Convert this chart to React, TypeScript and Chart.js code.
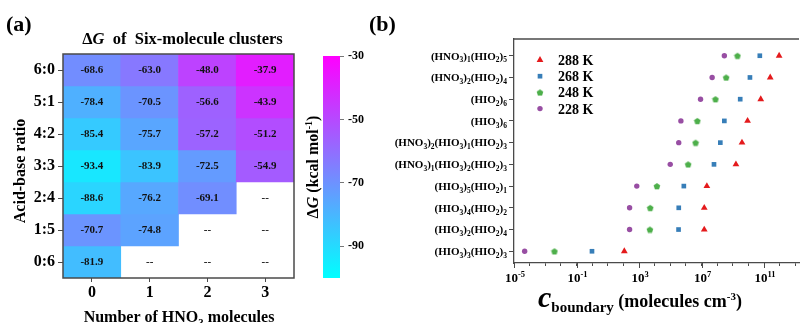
import React, { useEffect, useRef } from 'react';
import { Chart, registerables } from 'chart.js';

Chart.register(...registerables);

const SERIF = '"Liberation Serif", "Times New Roman", Times, serif';
const FRAME = '#4a4a4a';
const INK = '#000';

// ---------- (a) ΔG of six-molecule clusters ----------
// rows listed top to bottom (acid:base ratio), columns = number of HNO3 molecules
const ratioLabels = ['6:0', '5:1', '4:2', '3:3', '2:4', '1:5', '0:6'];
const hno3Labels = ['0', '1', '2', '3'];
const deltaG: (number | null)[][] = [
  [-68.6, -63.0, -48.0, -37.9],
  [-78.4, -70.5, -56.6, -43.9],
  [-85.4, -75.7, -57.2, -51.2],
  [-93.4, -83.9, -72.5, -54.9],
  [-88.6, -76.2, -69.1, null],
  [-70.7, -74.8, null, null],
  [-81.9, null, null, null],
];
const gMin = -100;
const gMax = -30;
const colorbarTicks = [-30, -50, -70, -90];

// ---------- (b) boundary concentrations ----------
// clusters listed bottom to top
const clusterLabels = [
  '(HIO₃)₃(HIO₂)₃',
  '(HIO₃)₂(HIO₂)₄',
  '(HIO₃)₄(HIO₂)₂',
  '(HIO₃)₅(HIO₂)₁',
  '(HNO₃)₁(HIO₃)₂(HIO₂)₃',
  '(HNO₃)₂(HIO₃)₁(HIO₂)₃',
  '(HIO₃)₆',
  '(HIO₂)₆',
  '(HNO₃)₂(HIO₂)₄',
  '(HNO₃)₁(HIO₂)₅',
];
const c288K = [1.15e2, 1.5e7, 1.5e7, 2.2e7, 1.6e9, 3.9e9, 8.9e9, 6.2e10, 2.5e11, 9.3e11];
const c268K = [0.98, 3.4e5, 3.5e5, 7.4e5, 6.3e7, 1.6e8, 2.9e8, 3.0e9, 1.26e10, 5.4e10];
const c248K = [3.9e-3, 5.0e3, 5.2e3, 1.4e4, 1.4e6, 4.2e6, 5.4e6, 7.8e7, 3.8e8, 2.0e9];
const c228K = [4.8e-5, 2.5e2, 2.5e2, 7.2e2, 1.0e5, 3.5e5, 4.8e5, 8.7e6, 4.8e7, 2.9e8];
const temperatureLabels = ['288 K', '268 K', '248 K', '228 K'];
const xMinorExponents = [-5, -4, -3, -2, -1, 0, 1, 2, 3, 4, 5, 6, 7, 8, 9, 10, 11, 12, 13];
const xMajorExponents = [-5, -1, 3, 7, 11];

// matplotlib-style "cool" colormap: cyan -> magenta
function coolColor(v: number): string {
  const t = Math.min(1, Math.max(0, (v - gMin) / (gMax - gMin)));
  return `rgb(${Math.round(255 * t)},${Math.round(255 * (1 - t))},255)`;
}

// ---------- rich text helpers ----------
type Part = { text: string; font: string; dy: number };
const SUB_CHARS = '₀₁₂₃₄₅₆₇₈₉';

function richParts(s: string, size: number, weight = 'bold'): Part[] {
  const parts: Part[] = [];
  const small = Math.round(size * 0.68 * 10) / 10;
  for (const ch of Array.from(s)) {
    const si = SUB_CHARS.indexOf(ch);
    const isSub = si >= 0;
    const text = isSub ? String(si) : ch;
    const font = `${weight} ${isSub ? small : size}px ${SERIF}`;
    const dy = isSub ? size * 0.27 : 0;
    const last = parts[parts.length - 1];
    if (last && last.font === font && last.dy === dy) last.text += text;
    else parts.push({ text, font, dy });
  }
  return parts;
}

function drawParts(
  ctx: CanvasRenderingContext2D,
  parts: Part[],
  x: number,
  y: number,
  align: 'left' | 'right' | 'center'
) {
  const widths = parts.map((p) => {
    ctx.font = p.font;
    return ctx.measureText(p.text).width;
  });
  const total = widths.reduce((a, b) => a + b, 0);
  let cx = align === 'left' ? x : align === 'right' ? x - total : x - total / 2;
  ctx.textAlign = 'left';
  ctx.textBaseline = 'alphabetic';
  parts.forEach((p, i) => {
    ctx.font = p.font;
    ctx.fillText(p.text, cx, y + p.dy);
    cx += widths[i];
  });
}

function makePentagon(color: string): HTMLCanvasElement {
  const c = document.createElement('canvas');
  c.width = 8;
  c.height = 8;
  const g = c.getContext('2d')!;
  g.fillStyle = color;
  g.beginPath();
  for (let k = 0; k < 5; k++) {
    const ang = -Math.PI / 2 + (k * 2 * Math.PI) / 5;
    const px = 4 + 3.5 * Math.cos(ang);
    const py = 4.4 + 3.5 * Math.sin(ang);
    if (k === 0) g.moveTo(px, py);
    else g.lineTo(px, py);
  }
  g.closePath();
  g.fill();
  return c;
}

// ---------- panel (a): heatmap ----------
function makeHeatmap(canvas: HTMLCanvasElement) {
  const top = ratioLabels.length - 1;
  const datasets = deltaG.map((row, i) => ({
    label: ratioLabels[i],
    data: row.map((v) => (v === null ? null : [top - i - 0.5, top - i + 0.5])),
    backgroundColor: row.map((v) => (v === null ? 'rgba(0,0,0,0)' : coolColor(v))),
    borderWidth: 0,
    grouped: false,
    barPercentage: 1,
    categoryPercentage: 1,
  }));

  const decor = {
    id: 'heatDecor',
    afterDatasetsDraw(chart: any) {
      const { ctx, chartArea: a, scales } = chart;
      const xs = scales.x;
      const ys = scales.y;
      ctx.save();
      ctx.fillStyle = '#111';
      ctx.textAlign = 'center';
      ctx.textBaseline = 'middle';
      ctx.font = `bold 11px ${SERIF}`;
      deltaG.forEach((row, i) => {
        const py = ys.getPixelForValue(top - i);
        row.forEach((v, j) => {
          const px = xs.getPixelForValue(j);
          ctx.fillText(v === null ? '--' : v.toFixed(1), px, py + 0.5);
        });
      });
      ctx.strokeStyle = FRAME;
      ctx.lineWidth = 1.5;
      ctx.strokeRect(a.left, a.top, a.right - a.left, a.bottom - a.top);
      ctx.restore();
    },
    afterDraw(chart: any) {
      const { ctx } = chart;
      ctx.save();
      ctx.fillStyle = INK;
      // panel letter
      drawParts(ctx, [{ text: '(a)', font: `bold 22px ${SERIF}`, dy: 0 }], 6, 31, 'left');
      // title
      drawParts(
        ctx,
        [
          { text: 'Δ', font: `bold 16.5px ${SERIF}`, dy: 0 },
          { text: 'G', font: `italic bold 16.5px ${SERIF}`, dy: 0 },
          { text: '  of  Six-molecule clusters', font: `bold 16.5px ${SERIF}`, dy: 0 },
        ],
        182.5,
        43.5,
        'center'
      );
      // x title
      drawParts(ctx, richParts('Number of HNO₃ molecules', 16), 179, 322, 'center');
      // y title
      ctx.translate(25, 171);
      ctx.rotate(-Math.PI / 2);
      drawParts(ctx, [{ text: 'Acid-base ratio', font: `bold 16px ${SERIF}`, dy: 0 }], 0, 0, 'center');
      ctx.restore();
    },
  };

  return new Chart(canvas, {
    type: 'bar',
    data: { labels: hno3Labels, datasets: datasets as any },
    options: {
      responsive: false,
      animation: false,
      devicePixelRatio: 1,
      events: [],
      layout: { padding: { left: 0, top: 54, right: 6, bottom: 0 } },
      plugins: { legend: { display: false }, tooltip: { enabled: false } },
      scales: {
        x: {
          type: 'category',
          offset: true,
          grid: { display: true, offset: false, drawOnChartArea: false, drawTicks: true, tickLength: 4, color: FRAME },
          border: { display: false },
          ticks: { color: INK, font: { family: SERIF, size: 16, weight: 'bold' }, padding: 1 },
          afterFit: (s: any) => {
            s.height = 45;
          },
        },
        y: {
          type: 'linear',
          min: -0.5,
          max: ratioLabels.length - 0.5,
          afterBuildTicks: (s: any) => {
            s.ticks = ratioLabels.map((_, k) => ({ value: k }));
          },
          ticks: {
            color: INK,
            font: { family: SERIF, size: 16, weight: 'bold' },
            padding: 3,
            callback: (v: any) => ratioLabels[top - Number(v)],
          },
          grid: { display: true, drawOnChartArea: false, drawTicks: true, tickLength: 5, color: FRAME },
          border: { display: false },
          afterFit: (s: any) => {
            s.width = 63;
          },
        },
      },
    } as any,
    plugins: [decor],
  });
}

// ---------- colour bar ----------
function makeColorbar(canvas: HTMLCanvasElement) {
  const decor = {
    id: 'cbarDecor',
    afterDraw(chart: any) {
      const { ctx } = chart;
      ctx.save();
      ctx.fillStyle = INK;
      ctx.translate(18, 167);
      ctx.rotate(-Math.PI / 2);
      drawParts(
        ctx,
        [
          { text: 'Δ', font: `bold 16px ${SERIF}`, dy: 0 },
          { text: 'G', font: `italic bold 16px ${SERIF}`, dy: 0 },
          { text: ' (kcal mol', font: `bold 16px ${SERIF}`, dy: 0 },
          { text: '-1', font: `bold 10px ${SERIF}`, dy: -6 },
          { text: ')', font: `bold 16px ${SERIF}`, dy: 0 },
        ],
        0,
        0,
        'center'
      );
      ctx.restore();
    },
  };

  return new Chart(canvas, {
    type: 'bar',
    data: {
      labels: ['ΔG'],
      datasets: [
        {
          data: [[gMin, gMax]],
          borderWidth: 0,
          barPercentage: 1,
          categoryPercentage: 1,
          backgroundColor: (c: any) => {
            const chart = c.chart;
            const ys = chart.scales && chart.scales.y;
            if (!chart.chartArea || !ys) return coolColor((gMin + gMax) / 2);
            const y0 = ys.getPixelForValue(gMin);
            const y1 = ys.getPixelForValue(gMax);
            if (!Number.isFinite(y0) || !Number.isFinite(y1) || y0 === y1) return coolColor((gMin + gMax) / 2);
            const g = chart.ctx.createLinearGradient(0, y0, 0, y1);
            g.addColorStop(0, coolColor(gMin));
            g.addColorStop(1, coolColor(gMax));
            return g;
          },
        },
      ] as any,
    },
    options: {
      responsive: false,
      animation: false,
      devicePixelRatio: 1,
      events: [],
      layout: { padding: { left: 23, top: 56, right: 0, bottom: 45 } },
      plugins: { legend: { display: false }, tooltip: { enabled: false } },
      scales: {
        x: { type: 'category', display: false },
        y: {
          type: 'linear',
          position: 'right',
          min: gMin,
          max: gMax,
          afterBuildTicks: (s: any) => {
            s.ticks = colorbarTicks.map((v) => ({ value: v }));
          },
          ticks: { color: INK, font: { family: SERIF, size: 12, weight: 'bold' }, padding: 4 },
          grid: { display: true, drawOnChartArea: false, drawTicks: true, tickLength: 4, color: '#777' },
          border: { display: false },
          afterFit: (s: any) => {
            s.width = 32;
          },
        },
      },
    } as any,
    plugins: [decor],
  });
}

// ---------- panel (b): boundary concentrations ----------
const RED = '#e41a1c';
const BLUE = '#377eb8';
const GREEN = '#4daf4a';
const PURPLE = '#984ea3';

function makeBoundary(canvas: HTMLCanvasElement) {
  const pentagon = makePentagon(GREEN);
  const series = [
    { label: temperatureLabels[0], values: c288K, color: RED, style: 'triangle' as any, radius: 3.9 },
    { label: temperatureLabels[1], values: c268K, color: BLUE, style: 'rect' as any, radius: 3.3 },
    { label: temperatureLabels[2], values: c248K, color: GREEN, style: pentagon as any, radius: 3 },
    { label: temperatureLabels[3], values: c228K, color: PURPLE, style: 'circle' as any, radius: 2.7 },
  ];

  const drawMarker = (ctx: CanvasRenderingContext2D, s: any, x: number, y: number) => {
    ctx.fillStyle = s.color;
    if (typeof s.style !== 'string') {
      ctx.drawImage(s.style, x - 4, y - 4);
      return;
    }
    ctx.beginPath();
    if (s.style === 'triangle') {
      const r = s.radius;
      ctx.moveTo(x, y - r);
      ctx.lineTo(x + r * 0.866, y + r * 0.5);
      ctx.lineTo(x - r * 0.866, y + r * 0.5);
      ctx.closePath();
    } else if (s.style === 'rect') {
      const h = s.radius * Math.SQRT1_2;
      ctx.rect(x - h, y - h, 2 * h, 2 * h);
    } else {
      ctx.arc(x, y, s.radius, 0, Math.PI * 2);
    }
    ctx.fill();
  };

  const decor = {
    id: 'boundaryDecor',
    afterDraw(chart: any) {
      const { ctx, chartArea: a, scales } = chart;
      const xs = scales.x;
      const ys = scales.y;
      ctx.save();
      // top edge of the frame
      ctx.strokeStyle = FRAME;
      ctx.lineWidth = 1.3;
      ctx.beginPath();
      ctx.moveTo(a.left - 0.6, a.top);
      ctx.lineTo(a.right, a.top);
      ctx.stroke();
      // longer ticks at labelled decades
      ctx.lineWidth = 1;
      xMajorExponents.forEach((e) => {
        const px = Math.round(xs.getPixelForValue(Math.pow(10, e))) + 0.5;
        ctx.beginPath();
        ctx.moveTo(px, a.bottom);
        ctx.lineTo(px, a.bottom + 5);
        ctx.stroke();
      });
      ctx.fillStyle = INK;
      // cluster labels
      clusterLabels.forEach((lab, i) => {
        drawParts(ctx, richParts(lab, 11), a.left - 7, ys.getPixelForValue(i) + 3.8, 'right');
      });
      // decade labels
      xMajorExponents.forEach((e) => {
        const px = xs.getPixelForValue(Math.pow(10, e));
        drawParts(
          ctx,
          [
            { text: '10', font: `bold 13px ${SERIF}`, dy: 0 },
            { text: String(e), font: `bold 8.5px ${SERIF}`, dy: -5.5 },
          ],
          px + 1,
          282,
          'center'
        );
      });
      // legend
      series.forEach((s, k) => {
        const ly = 60 + k * 16.2;
        drawMarker(ctx, s, 180, ly);
        ctx.fillStyle = INK;
        drawParts(ctx, [{ text: s.label, font: `bold 14px ${SERIF}`, dy: 0 }], 198, ly + 5, 'left');
      });
      // x title
      ctx.fillStyle = INK;
      drawParts(
        ctx,
        [
          { text: 'c', font: `italic bold 30px ${SERIF}`, dy: 0 },
          { text: 'boundary', font: `bold 15px ${SERIF}`, dy: 5 },
          { text: ' (molecules cm', font: `bold 18px ${SERIF}`, dy: 0 },
          { text: '-3', font: `bold 11px ${SERIF}`, dy: -7 },
          { text: ')', font: `bold 18px ${SERIF}`, dy: 0 },
        ],
        178,
        307,
        'left'
      );
      // panel letter
      drawParts(ctx, [{ text: '(b)', font: `bold 22px ${SERIF}`, dy: 0 }], 9, 31, 'left');
      ctx.restore();
    },
  };

  return new Chart(canvas, {
    type: 'scatter',
    data: {
      datasets: series.map((s) => ({
        label: s.label,
        data: s.values.map((v, i) => ({ x: v, y: i })),
        pointStyle: s.style,
        pointRadius: s.radius,
        backgroundColor: s.color,
        borderColor: s.color,
        borderWidth: 0,
      })) as any,
    },
    options: {
      responsive: false,
      animation: false,
      devicePixelRatio: 1,
      events: [],
      layout: { padding: { left: 0, top: 39, right: 0, bottom: 0 } },
      plugins: { legend: { display: false }, tooltip: { enabled: false } },
      scales: {
        x: {
          type: 'logarithmic',
          min: 1e-5,
          max: Math.pow(10, 13.24),
          afterBuildTicks: (s: any) => {
            s.ticks = xMinorExponents.map((e) => ({ value: Math.pow(10, e) }));
          },
          ticks: { display: false },
          grid: { display: true, drawOnChartArea: false, drawTicks: true, tickLength: 3, color: FRAME },
          border: { display: true, color: FRAME, width: 1.3 },
          afterFit: (s: any) => {
            s.height = 60;
          },
        },
        y: {
          type: 'linear',
          min: -0.54,
          max: 9.77,
          afterBuildTicks: (s: any) => {
            s.ticks = clusterLabels.map((_, i) => ({ value: i }));
          },
          ticks: { display: false },
          grid: { display: true, drawOnChartArea: false, drawTicks: true, tickLength: 5, color: FRAME },
          border: { display: true, color: FRAME, width: 1.3 },
          afterFit: (s: any) => {
            s.width = 154;
          },
        },
      },
    } as any,
    plugins: [decor],
  });
}

export default function App() {
  const heatRef = useRef<HTMLCanvasElement>(null);
  const cbarRef = useRef<HTMLCanvasElement>(null);
  const boundRef = useRef<HTMLCanvasElement>(null);

  useEffect(() => {
    const charts = [
      makeHeatmap(heatRef.current!),
      makeColorbar(cbarRef.current!),
      makeBoundary(boundRef.current!),
    ];
    return () => charts.forEach((c) => c.destroy());
  }, []);

  const abs = (left: number, width: number): React.CSSProperties => ({
    position: 'absolute',
    left,
    top: 0,
    width,
    height: 323,
  });

  return (
    <div
      style={{
        position: 'fixed',
        left: 0,
        top: 0,
        width: 803,
        height: 323,
        background: '#fff',
        overflow: 'hidden',
      }}
    >
      <canvas ref={heatRef} width={300} height={323} style={abs(0, 300)} />
      <canvas ref={cbarRef} width={72} height={323} style={abs(300, 72)} />
      <canvas ref={boundRef} width={443} height={323} style={abs(360, 443)} />
    </div>
  );
}
